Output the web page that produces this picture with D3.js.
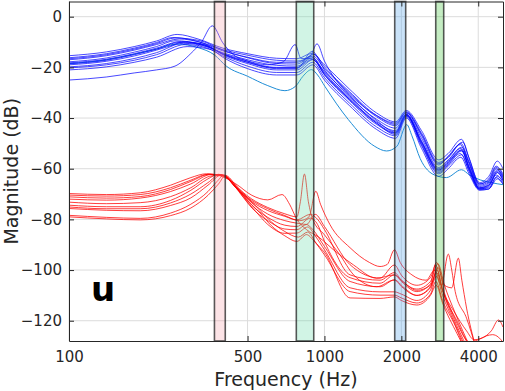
<!DOCTYPE html>
<html>
<head>
<meta charset="utf-8">
<script src="https://cdn.jsdelivr.net/npm/d3@7"></script>
<style>
  body { margin: 0; background: #fff; }
  svg { display: block; font-family: "DejaVu Sans", sans-serif; }
</style>
</head>
<body>
<svg id="chart" width="505" height="391"></svg>
<script>
// ---- data: [frequency Hz, magnitude dB] ----

var xTicks = [100, 500, 1000, 2000, 4000];
var yTicks = [-120, -100, -80, -60, -40, -20, 0];

// highlighted frequency bands [low Hz, high Hz]
var bands = [[371, 409], [776, 908], [1884, 2080], [2727, 2930]];
var bandColors = ["#f4a3ad", "#66d9a8", "#4d9ee8", "#3cc034"];

var blueCurves = [
  [[100,-15.4],[140,-13.9],[180,-11.8],[220,-9.6],[265,-7.0],[320,-8.8],[400,-12.4],[500,-14.6],[650,-16.4],[780,-16.6],[890,-14.5],[1000,-19.0],[1250,-28.5],[1600,-38.0],[1900,-41.5],[2090,-37.0],[2400,-45.0],[2800,-56.5],[3050,-54.0],[3440,-48.4],[3660,-55.0],[4050,-65.5],[4400,-63.0],[4750,-57.0],[5000,-60.0]],
  [[100,-16.2],[140,-14.6],[180,-12.4],[220,-10.2],[255,-8.2],[320,-9.8],[400,-13.5],[500,-16.0],[650,-18.0],[780,-18.0],[900,-15.5],[1000,-20.5],[1250,-30.0],[1600,-39.5],[1900,-43.0],[2090,-38.0],[2400,-46.5],[2800,-58.0],[3050,-55.5],[3420,-50.0],[3660,-56.5],[4050,-66.0],[4400,-64.0],[4700,-59.0],[5000,-62.0]],
  [[100,-17.0],[140,-15.4],[180,-13.2],[220,-11.0],[270,-8.8],[330,-10.2],[400,-13.0],[500,-15.2],[650,-17.2],[780,-17.5],[880,-15.5],[935,-10.7],[1000,-17.5],[1100,-24.5],[1250,-30.5],[1600,-39.0],[1900,-42.0],[2090,-37.8],[2400,-47.0],[2800,-58.5],[3050,-55.0],[3400,-50.5],[3660,-57.0],[4050,-66.5],[4400,-65.0],[4750,-60.5],[5000,-63.0]],
  [[100,-17.8],[140,-16.3],[180,-14.0],[220,-11.8],[260,-9.5],[330,-10.8],[400,-14.5],[500,-17.5],[600,-19.0],[690,-17.8],[768,-11.0],[810,-16.5],[880,-16.5],[1000,-21.5],[1250,-31.5],[1600,-40.5],[1900,-44.0],[2090,-38.5],[2400,-48.0],[2800,-59.5],[3050,-56.5],[3450,-51.5],[3680,-58.0],[4050,-67.0],[4400,-65.5],[4700,-60.0],[5000,-63.5]],
  [[100,-18.2],[140,-16.8],[180,-14.6],[220,-12.4],[275,-9.8],[340,-11.5],[400,-14.2],[500,-17.0],[650,-19.2],[780,-19.5],[900,-16.2],[1000,-22.0],[1250,-32.0],[1600,-41.5],[1900,-45.0],[2090,-38.8],[2400,-49.0],[2800,-60.0],[3050,-57.0],[3420,-52.0],[3680,-59.0],[4050,-67.5],[4400,-66.0],[4750,-61.0],[5000,-64.0]],
  [[100,-19.0],[140,-17.6],[180,-15.5],[220,-13.2],[250,-11.5],[280,-10.0],[340,-11.0],[400,-15.0],[500,-18.5],[650,-21.0],[780,-21.0],[900,-17.0],[1000,-23.0],[1250,-33.0],[1600,-42.5],[1900,-46.0],[2090,-39.2],[2400,-50.0],[2800,-61.0],[3050,-58.0],[3450,-53.0],[3680,-60.0],[4050,-68.0],[4400,-67.0],[4700,-62.5],[5000,-65.0]],
  [[100,-19.8],[140,-18.5],[180,-16.5],[220,-14.2],[280,-10.5],[350,-12.0],[400,-14.8],[500,-18.0],[650,-20.5],[780,-20.5],[895,-13.7],[1000,-21.0],[1250,-31.0],[1600,-41.0],[1900,-45.5],[2090,-38.5],[2400,-50.5],[2800,-61.5],[3050,-58.5],[3400,-54.0],[3680,-60.5],[4050,-68.0],[4400,-67.5],[4750,-63.0],[5000,-65.5]],
  [[100,-20.2],[140,-19.0],[180,-17.2],[220,-15.0],[285,-11.0],[350,-12.5],[400,-15.5],[500,-19.5],[650,-22.0],[780,-22.0],[900,-18.0],[1000,-24.0],[1250,-34.0],[1600,-43.5],[1900,-47.0],[2090,-39.5],[2400,-51.0],[2800,-62.0],[3050,-59.0],[3450,-54.5],[3680,-61.0],[4050,-68.3],[4400,-68.0],[4700,-63.5],[5000,-66.0]],
  [[100,-21.0],[140,-19.8],[180,-18.0],[220,-16.0],[290,-11.8],[360,-13.0],[400,-16.0],[500,-20.5],[650,-23.0],[780,-23.0],[900,-19.0],[1000,-25.0],[1250,-35.0],[1600,-44.5],[1900,-48.0],[2090,-40.0],[2400,-52.0],[2800,-63.0],[3050,-60.0],[3420,-55.5],[3680,-62.0],[4050,-68.5],[4400,-68.0],[4750,-64.0],[5000,-66.0]],
  [[100,-25.0],[140,-23.8],[180,-22.2],[220,-21.0],[260,-19.5],[300,-14.5],[330,-10.0],[364,-3.6],[400,-10.3],[440,-15.0],[500,-17.5],[650,-20.0],[780,-20.0],[900,-16.8],[1000,-22.5],[1250,-32.5],[1600,-42.0],[1900,-46.5],[2090,-39.0],[2400,-49.5],[2800,-60.5],[3050,-57.5],[3450,-52.5],[3680,-59.5],[4050,-67.5],[4400,-66.5],[4750,-61.5],[5000,-64.5]],
  [[100,-16.6],[140,-15.0],[180,-12.8],[220,-10.6],[260,-8.4],[330,-9.6],[400,-13.2],[500,-16.2],[650,-18.5],[780,-18.7],[910,-14.8],[1000,-19.8],[1250,-29.5],[1600,-39.0],[1900,-42.5],[2090,-37.5],[2400,-46.0],[2800,-57.5],[3050,-55.5],[3480,-49.5],[3700,-56.5],[4050,-66.0],[4400,-64.5],[4700,-59.5],[5000,-62.5]],
  [[100,-18.6],[140,-17.2],[180,-15.0],[220,-12.8],[270,-10.2],[340,-11.2],[400,-14.6],[500,-18.0],[650,-20.2],[780,-20.2],[890,-15.8],[1000,-22.8],[1250,-32.5],[1600,-42.0],[1900,-45.8],[2090,-38.8],[2400,-49.5],[2800,-60.5],[3050,-57.5],[3430,-52.8],[3680,-59.5],[4050,-67.8],[4400,-66.5],[4750,-61.5],[5000,-64.5]]
];

var lightBlueCurve = [[100,-18.5],[140,-17.0],[180,-14.8],[220,-12.8],[265,-10.8],[320,-12.2],[370,-15.0],[414,-19.6],[500,-23.5],[600,-27.2],[700,-29.2],[770,-27.5],[824,-23.5],[890,-20.9],[940,-23.0],[1004,-27.5],[1240,-40.6],[1575,-51.2],[1750,-53.0],[1920,-51.2],[2100,-42.6],[2200,-47.0],[2370,-56.0],[2700,-62.5],[3000,-63.5],[3440,-60.4],[3700,-62.5],[4070,-64.4],[4500,-65.5],[5000,-66.3]];

var redCurves = [
  [[100,-69.8],[140,-70.2],[190,-69.5],[250,-66.5],[300,-63.5],[345,-62.0],[390,-62.8],[450,-66.0],[520,-70.5],[600,-72.3],[682,-70.2],[730,-74.0],[780,-80.0],[850,-84.0],[950,-87.0],[1100,-92.5],[1300,-98.0],[1600,-103.2],[1880,-101.9],[2000,-104.0],[2300,-108.0],[2600,-106.0],[2750,-101.0],[2900,-108.0],[3200,-116.0],[3600,-124.0],[3850,-127.5],[4100,-127.0],[4500,-124.0],[4800,-119.7],[5000,-122.5]],
  [[100,-70.4],[140,-70.8],[190,-70.2],[250,-67.5],[300,-64.5],[350,-62.2],[395,-62.5],[450,-67.0],[520,-72.0],[600,-75.3],[700,-77.8],[780,-79.0],[805,-73.0],[835,-62.1],[865,-73.0],[900,-80.0],[1000,-86.1],[1150,-94.0],[1300,-101.9],[1600,-106.6],[1880,-103.9],[2050,-107.0],[2300,-110.0],[2600,-107.0],[2780,-99.0],[2950,-109.0],[3300,-120.0],[3700,-128.5],[4000,-127.5],[4300,-126.0],[4550,-125.5],[4800,-126.5],[5000,-128.5]],
  [[100,-71.1],[140,-71.6],[190,-71.0],[250,-68.2],[300,-65.0],[355,-62.2],[400,-62.6],[450,-67.5],[520,-73.0],[600,-76.5],[700,-78.8],[800,-80.5],[870,-79.0],[925,-68.9],[965,-74.0],[1050,-82.0],[1260,-91.2],[1500,-97.0],[1650,-98.6],[1760,-97.8],[1880,-92.0],[1980,-97.0],[2200,-101.9],[2500,-104.0],[2700,-100.0],[2870,-106.0],[3054,-93.7],[3150,-100.0],[3250,-108.5],[3600,-119.0],[3900,-130.0]],
  [[100,-72.0],[140,-72.4],[190,-71.6],[250,-69.0],[300,-66.0],[360,-62.3],[405,-63.0],[460,-68.5],[520,-73.5],[600,-77.9],[700,-80.5],[780,-81.5],[850,-82.0],[920,-78.0],[1000,-82.8],[1260,-97.9],[1650,-103.2],[1880,-98.0],[2000,-102.0],[2300,-106.0],[2600,-103.0],[2750,-97.0],[2950,-106.0],[3150,-107.0],[3342,-95.3],[3450,-104.0],[3600,-115.0],[3900,-130.0]],
  [[100,-74.4],[140,-75.0],[190,-75.0],[250,-72.5],[300,-68.5],[350,-64.0],[385,-62.2],[420,-64.0],[470,-69.5],[520,-74.5],[600,-79.2],[700,-82.3],[780,-82.8],[880,-79.5],[940,-82.0],[1000,-88.7],[1260,-103.0],[1650,-105.2],[1880,-101.9],[2000,-104.5],[2300,-108.5],[2600,-105.5],[2720,-98.0],[2900,-108.0],[3200,-118.0],[3500,-126.0],[3700,-130.0]],
  [[100,-75.1],[140,-75.8],[190,-75.8],[250,-73.5],[300,-70.0],[350,-65.5],[390,-62.3],[420,-64.0],[470,-70.0],[520,-75.5],[600,-80.5],[700,-83.8],[780,-84.1],[850,-82.0],[900,-84.0],[1000,-90.7],[1260,-104.5],[1650,-106.6],[1880,-103.9],[2000,-106.5],[2300,-110.0],[2600,-106.5],[2760,-100.0],[2900,-108.0],[3200,-119.0],[3600,-130.0]],
  [[100,-75.7],[140,-76.4],[190,-76.6],[250,-74.5],[300,-71.5],[350,-66.5],[395,-62.5],[430,-64.5],[480,-71.0],[540,-77.0],[600,-82.0],[700,-85.5],[780,-85.4],[860,-83.0],[920,-86.5],[1000,-92.0],[1260,-107.0],[1650,-108.6],[1880,-108.6],[2000,-109.5],[2300,-112.0],[2600,-108.0],[2740,-102.5],[2900,-110.0],[3200,-120.0],[3550,-130.0]],
  [[100,-78.4],[140,-79.2],[190,-79.6],[250,-77.5],[300,-74.0],[350,-69.0],[380,-65.0],[405,-62.5],[440,-66.0],[500,-72.5],[560,-77.5],[620,-82.5],[700,-86.5],[780,-88.7],[850,-86.0],[910,-88.5],[1000,-94.0],[1260,-108.5],[1650,-109.9],[1880,-109.9],[2000,-111.0],[2300,-113.0],[2600,-109.5],[2730,-104.5],[2900,-112.0],[3250,-122.0],[3500,-130.0]],
  [[100,-79.0],[140,-79.8],[190,-80.2],[250,-78.5],[300,-75.5],[350,-70.5],[385,-66.0],[410,-62.7],[450,-66.5],[500,-71.5],[560,-76.5],[620,-81.0],[700,-84.8],[790,-87.0],[860,-85.0],[930,-89.5],[1000,-93.0],[1260,-111.0],[1650,-111.2],[1880,-110.6],[2000,-112.0],[2300,-113.8],[2600,-110.0],[2740,-106.0],[2900,-113.0],[3300,-125.0],[3500,-130.0]],
  [[100,-73.2],[140,-73.8],[190,-73.4],[250,-71.0],[300,-67.5],[355,-63.0],[400,-62.4],[450,-67.5],[520,-72.5],[600,-75.8],[700,-78.5],[780,-80.2],[880,-78.0],[940,-80.0],[1000,-84.0],[1260,-101.9],[1650,-104.0],[1880,-101.0],[2000,-104.0],[2300,-107.5],[2600,-104.5],[2780,-97.5],[2950,-106.0],[3250,-117.0],[3700,-130.0]]
];

// ---- layout ----
var svg = d3.select("#chart");
var plotLeft = 69, plotRight = 503, plotTop = 1.5, plotBottom = 341;
var ink = "#262626";

var x = d3.scaleLog().domain([100, 5000]).range([plotLeft, plotRight]);
var y = d3.scaleLinear().domain([-128, 6]).range([plotBottom, plotTop]);

svg.append("defs").append("clipPath").attr("id", "clip")
  .append("rect")
  .attr("x", plotLeft).attr("y", plotTop)
  .attr("width", plotRight - plotLeft).attr("height", plotBottom - plotTop);

// grid
var grid = svg.append("g").attr("class", "grid")
  .attr("stroke", "#dcdcdc").attr("stroke-width", 1);
grid.selectAll(".vgrid").data(xTicks).enter().append("line")
  .attr("x1", d => x(d)).attr("x2", d => x(d))
  .attr("y1", plotTop).attr("y2", plotBottom);
grid.selectAll(".hgrid").data(yTicks).enter().append("line")
  .attr("x1", plotLeft).attr("x2", plotRight)
  .attr("y1", d => y(d)).attr("y2", d => y(d));

// curves
var line = d3.line()
  .x(d => x(d[0]))
  .y(d => y(d[1]))
  .curve(d3.curveMonotoneX);

var plot = svg.append("g").attr("clip-path", "url(#clip)");

plot.selectAll(".red").data(redCurves).enter().append("path")
  .attr("class", "red")
  .attr("d", line)
  .attr("fill", "none")
  .attr("stroke", "#ff0000")
  .attr("stroke-opacity", 0.85)
  .attr("stroke-width", 0.9);

plot.append("path")
  .datum(lightBlueCurve)
  .attr("d", line)
  .attr("fill", "none")
  .attr("stroke", "#1f8dd6")
  .attr("stroke-width", 1);

plot.selectAll(".blue").data(blueCurves).enter().append("path")
  .attr("class", "blue")
  .attr("d", line)
  .attr("fill", "none")
  .attr("stroke", "#0000ff")
  .attr("stroke-opacity", 0.8)
  .attr("stroke-width", 0.9);

// bands drawn on top, semi transparent
svg.selectAll(".band").data(bands).enter().append("rect")
  .attr("class", "band")
  .attr("x", d => x(d[0]))
  .attr("y", plotTop)
  .attr("width", d => x(d[1]) - x(d[0]))
  .attr("height", plotBottom - plotTop)
  .attr("fill", (d, i) => bandColors[i])
  .attr("fill-opacity", 0.3)
  .attr("stroke", "#222")
  .attr("stroke-opacity", 0.75)
  .attr("stroke-width", 1.6);

// axes
function styleAxis(g) {
  g.select(".domain").attr("stroke", ink);
  g.selectAll(".tick line").attr("stroke", ink);
  g.selectAll(".tick text")
    .attr("fill", ink)
    .style("font-size", "15px")
    .style("font-family", "DejaVu Sans, sans-serif");
}

svg.append("g")
  .attr("transform", "translate(0," + plotBottom + ")")
  .call(d3.axisBottom(x).tickValues(xTicks).tickFormat(d3.format("d"))
    .tickSizeInner(-5).tickSizeOuter(0).tickPadding(10))
  .call(styleAxis);

svg.append("g")
  .attr("transform", "translate(0," + plotTop + ")")
  .call(d3.axisTop(x).tickValues(xTicks).tickFormat("")
    .tickSizeInner(-5).tickSizeOuter(0))
  .call(styleAxis);

svg.append("g")
  .attr("transform", "translate(" + plotLeft + ",0)")
  .call(d3.axisLeft(y).tickValues(yTicks)
    .tickSizeInner(-5).tickSizeOuter(0).tickPadding(7))
  .call(styleAxis);

svg.append("g")
  .attr("transform", "translate(" + plotRight + ",0)")
  .call(d3.axisRight(y).tickValues(yTicks).tickFormat("")
    .tickSizeInner(-5).tickSizeOuter(0))
  .call(styleAxis);

// labels
svg.append("text")
  .attr("x", (plotLeft + plotRight) / 2)
  .attr("y", 386)
  .attr("text-anchor", "middle")
  .attr("fill", ink)
  .style("font-size", "19px")
  .text("Frequency (Hz)");

svg.append("text")
  .attr("transform", "translate(18," + (plotTop + plotBottom) / 2 + ") rotate(-90)")
  .attr("text-anchor", "middle")
  .attr("fill", ink)
  .style("font-size", "19px")
  .text("Magnitude (dB)");

svg.append("text")
  .attr("x", 91)
  .attr("y", 301)
  .attr("fill", "#000")
  .style("font-size", "34px")
  .style("font-weight", "bold")
  .text("u");
</script>
</body>
</html>
